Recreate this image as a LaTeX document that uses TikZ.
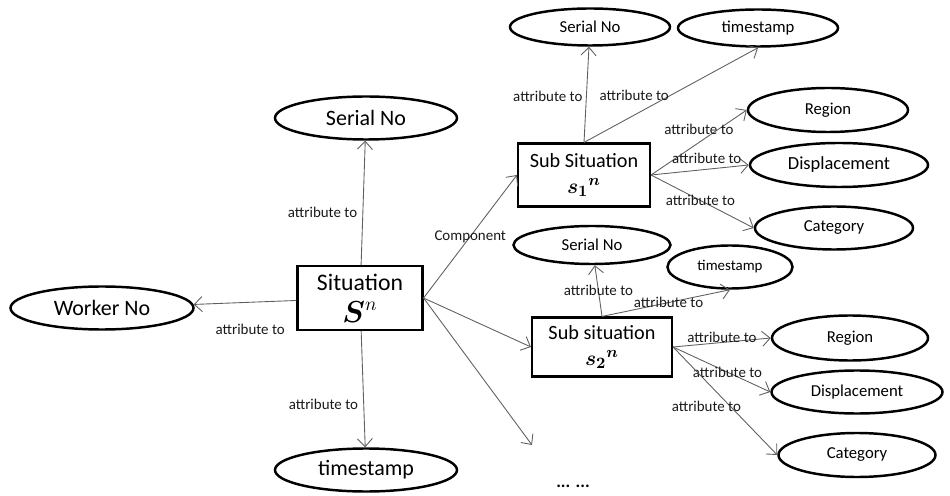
\documentclass[tikz,border=0pt]{standalone}
\usepackage{amsmath,bm}
\usepackage{fontspec}
\setmainfont{Carlito}
\usetikzlibrary{arrows.meta,shapes.geometric}
\definecolor{wire}{RGB}{95,95,95}

\begin{document}
\begin{tikzpicture}[font=\fontsize{8.5}{10}\selectfont, >={Straight Barb[length=1.6mm,width=3mm]},
  attr/.style={ellipse, draw, line width=1.4pt, inner sep=0pt, minimum width=3.2cm,
               minimum height=0.74cm, font=\fontsize{9.5}{11}\selectfont},
  bigattr/.style={attr, minimum width=3.64cm, minimum height=0.86cm, font=\fontsize{12.5}{14}\selectfont},
  sitbox/.style={rectangle, draw, line width=1.2pt, align=center, inner sep=0pt},
  link/.style={->, draw=wire, line width=0.5pt},
  lbl/.style={text=black!90, inner sep=1pt}]
  \useasboundingbox (0,0) rectangle (19,9.9);

  % main situation and its attributes
  \node[sitbox, minimum width=2.5cm, minimum height=1.28cm, font=\fontsize{13.5}{18}\selectfont]
    (sit) at (7.2,3.94) {Situation\\ {\fontsize{16}{18}\selectfont$\bm{S}^{n}$}};
  \node[bigattr, minimum width=3.66cm] (worker) at (2.04,3.74) {Worker No};
  \node[bigattr] (serial) at (7.32,7.54) {Serial No};
  \node[bigattr] (stamp)  at (7.32,0.5)  {timestamp};

  % first sub situation
  \node[sitbox, minimum width=2.64cm, minimum height=1.26cm, font=\fontsize{11.5}{15}\selectfont]
    (sub1) at (11.68,6.4) {Sub Situation\\ {\fontsize{13}{15}\selectfont${\bm{s}_{\bm{1}}}^{\bm{n}}$}};
  \node[attr] (ser1)   at (11.8,9.36)  {Serial No};
  \node[attr] (stamp1) at (15.16,9.34) {timestamp};
  \node[attr, minimum height=0.88cm] (reg1)  at (16.56,7.7)  {Region};
  \node[attr, minimum width=3.56cm, minimum height=0.88cm, font=\fontsize{10.5}{12}\selectfont]
    (disp1) at (16.78,6.6) {Displacement};
  \node[attr, minimum width=3.16cm, minimum height=0.86cm] (cat1)  at (16.68,5.34) {Category};

  % second sub situation
  \node[sitbox, minimum width=2.8cm, minimum height=1.18cm, font=\fontsize{11.5}{15}\selectfont]
    (sub2) at (12.04,2.96) {Sub situation\\ {\fontsize{13}{15}\selectfont${\bm{s}_{\bm{2}}}^{\bm{n}}$}};
  \node[attr, minimum width=3.14cm, minimum height=0.76cm] (ser2) at (11.84,5.0) {Serial No};
  \node[attr, minimum width=2.5cm, minimum height=0.86cm, font=\fontsize{8.5}{10}\selectfont]
    (stamp2) at (14.6,4.56) {timestamp};
  \node[attr, minimum width=3.12cm, minimum height=0.9cm] (reg2)  at (17.0,3.14)  {Region};
  \node[attr, minimum width=3.42cm, minimum height=0.86cm] (disp2) at (17.14,2.06) {Displacement};
  \node[attr, minimum width=3.14cm, minimum height=0.88cm] (cat2)  at (17.14,0.8)  {Category};

  \coordinate (more) at (10.64,1.0);
  \node[font=\fontsize{10}{12}\bfseries\selectfont] (dots) at (11.46,0.17) {... ...};

  \draw[link] (sit) -- node[lbl, pos=0.45, below=11pt] {attribute to} (worker);
  \draw[link] (sit) -- node[lbl, pos=0.42, left=2pt] {attribute to} (serial);
  \draw[link] (sit) -- node[lbl, pos=0.63, left=2pt] {attribute to} (stamp);
  \draw[link] (sit.east) -- node[lbl, pos=0.5] {Component} (sub1.west);
  \draw[link] (sit.east) -- (sub2.west);
  \draw[link] (sit.east) -- (more);

  \draw[link] (sub1.north) -- node[lbl, pos=0.48, left=1pt] {attribute to} (ser1);
  \draw[link] (sub1.north) -- node[lbl, pos=0.5, left] {attribute to} (stamp1.south);
  \draw[link] (sub1.east) -- node[lbl, pos=0.5, above=3pt] {attribute to} (reg1.west);
  \draw[link] (sub1.east) -- node[lbl, pos=0.57, above=2pt] {attribute to} (disp1.west);
  \draw[link] (sub1.east) -- node[lbl, pos=0.48] {attribute to} (cat1.west);

  \draw[link] (sub2.north) -- node[lbl, pos=0.5] {attribute to} (ser2);
  \draw[link] (sub2.north) -- node[lbl, pos=0.52] {attribute to} (stamp2.south);
  \draw[link] (sub2.east) -- node[lbl, pos=0.5, yshift=3pt] {attribute to} (reg2.west);
  \draw[link] (sub2.east) -- node[lbl, pos=0.56] {attribute to} (disp2.west);
  \draw[link] (sub2.east) -- node[lbl, pos=0.55, xshift=-0.48cm] {attribute to} (cat2.west);
\end{tikzpicture}
\end{document}
